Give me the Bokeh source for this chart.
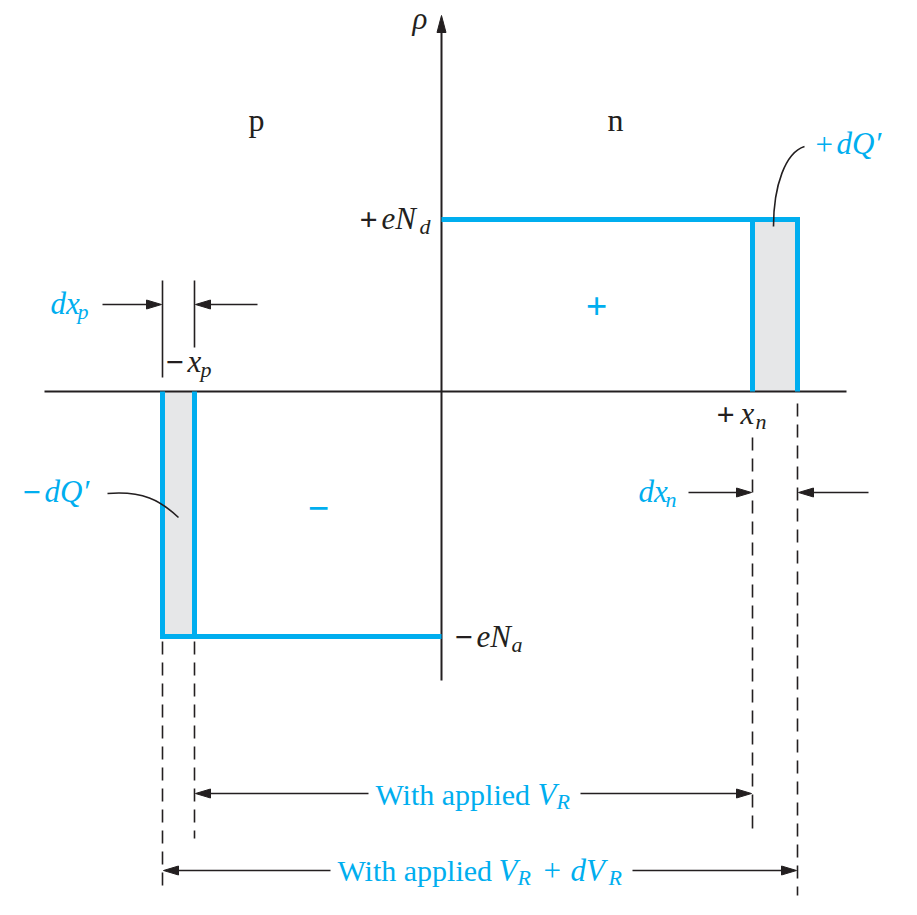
import numpy as np
from bokeh.plotting import figure
from bokeh.models import Range1d
from bokeh.core.properties import value
from bokeh.embed import file_html
from bokeh.resources import INLINE

# ---- chart values (charge-density diagram, arbitrary units) ----
Nd = 172          # +eN_d level
Na = 245          # -eN_a level (magnitude)
xp = 247          # depletion edge on p side (-x_p)
dxp = 32          # increment dx_p
xn = 311          # depletion edge on n side (+x_n)
dxn = 45          # increment dx_n
x_axis_ext = [-397, 405]
y_axis_ext = [-289, 376]

BLUE = "#00AEEF"
INK = "#231F20"
GRAY = "#E6E7E8"
FONT = "Liberation Serif"

W, H = 901, 899
OX, OY = 441, 391   # picture pixel position of the origin
TDY = -9            # text baseline correction


def X(px):
    return px - OX


def Y(py):
    return OY - py


p = figure(width=W, height=H,
           x_range=Range1d(-OX, W - OX),
           y_range=Range1d(OY - H, OY),
           output_backend="svg", toolbar_location=None,
           x_axis_type=None, y_axis_type=None,
           min_border=0, min_border_left=0, min_border_right=0,
           min_border_top=0, min_border_bottom=0,
           outline_line_color=None, background_fill_color="white",
           border_fill_color="white")
p.grid.visible = False

# gray increments of charge
p.quad(left=[xn, -(xp + dxp)], right=[xn + dxn, -xp],
       bottom=[0, -Na], top=[Nd, 0], fill_color=GRAY, line_color=None)

# axes
p.line(x_axis_ext, [0, 0], line_color=INK, line_width=2)
p.line([0, 0], [y_axis_ext[0], y_axis_ext[1] - 14], line_color=INK, line_width=2)

# blue charge blocks
p.multi_line(xs=[[0, xn + dxn, xn + dxn], [xn, xn],
                 [0, -(xp + dxp), -(xp + dxp)], [-xp, -xp]],
             ys=[[Nd, Nd, 0], [0, Nd], [-Na, -Na, 0], [-Na, 0]],
             line_color=BLUE, line_width=5, line_join="miter", line_cap="butt")

# black ticks above axis for dx_p
p.multi_line(xs=[[-(xp + dxp), -(xp + dxp)], [-xp, -xp]],
             ys=[[Y(377), Y(280)], [Y(347), Y(280)]],
             line_color=INK, line_width=1.6)

# dashed extension lines
p.multi_line(xs=[[-(xp + dxp)] * 2, [-xp] * 2, [xn] * 2, [xn + dxn] * 2],
             ys=[[Y(641), Y(890)], [Y(641), Y(838)], [Y(437), Y(834)], [Y(403), Y(895)]],
             line_color=INK, line_width=1.6, line_dash="13 8")

# dimension arrows
arrows = [
    # (start_x, tip_x, y)
    (X(102), -(xp + dxp) - 1, Y(304)),
    (X(257), -xp + 1, Y(304)),
    (X(688), xn - 1, Y(492)),
    (X(868), xn + dxn + 1, Y(492)),
    (X(368), -xp + 1, Y(793)),
    (X(580), xn - 1, Y(793)),
    (X(330), -(xp + dxp) + 1, Y(870)),
    (X(632), xn + dxn - 1, Y(870)),
]
L, HW = 15, 4.5
shaft_x, shaft_y, hx, hy = [], [], [], []
for sx, tx, y in arrows:
    d = 1 if tx > sx else -1
    bx = tx - d * L
    shaft_x.append([sx, bx + d * 2])
    shaft_y.append([y, y])
    hx.append([tx, bx, bx])
    hy.append([y, y + HW, y - HW])
# vertical axis arrow head
hx.append([0, -4.5, 4.5])
hy.append([y_axis_ext[1], y_axis_ext[1] - 17, y_axis_ext[1] - 17])

p.multi_line(xs=shaft_x, ys=shaft_y, line_color=INK, line_width=1.6)
p.patches(xs=hx, ys=hy, fill_color=INK, line_color=INK, line_width=1)

# leader curves
p.bezier(x0=[X(804), X(107)], y0=[Y(146), Y(493)],
         x1=[X(773), X(178)], y1=[Y(226), Y(517)],
         cx0=[X(785), X(142)], cy0=[Y(152), Y(490)],
         cx1=[X(773), X(160)], cy1=[Y(185), Y(500)],
         line_color=INK, line_width=1.6)


def txt(s, px, py, size, color, style="italic", align="left"):
    p.text(x=[X(px)], y=[Y(py + TDY)], text=[s],
           text_font=value(FONT), text_font_size=f"{size}px",
           text_font_style=style, text_color=color,
           text_align=align, text_baseline="alphabetic")


MS, SS, PS = 31, 22, 32
# black labels
txt("ρ", 412, 27, MS, INK)
txt("p", 248, 128, 32, INK, "normal")
txt("n", 607, 128, 32, INK, "normal")
txt("+", 359, 228, PS, INK, "bold")
txt("eN", 381, 227, MS, INK)
txt("d", 419, 235, SS, INK)
txt("\u2212", 454, 646, PS, INK, "bold")
txt("eN", 476, 645, MS, INK)
txt("a", 511, 653, SS, INK)
txt("\u2212", 165, 371, PS, INK, "bold")
txt("x", 187, 370, MS, INK)
txt("p", 200, 378, SS, INK)
txt("+", 716, 423, PS, INK, "bold")
txt("x", 740, 422, MS, INK)
txt("n", 755, 430, SS, INK)

# blue labels
txt("dx", 50, 312, MS, BLUE)
txt("p", 77, 320, SS, BLUE)
txt("dx", 638, 500, MS, BLUE)
txt("n", 665, 508, SS, BLUE)
txt("\u2212", 22, 501, PS, BLUE, "bold")
txt("dQ\u2032", 44, 500, MS, BLUE)
txt("+", 815, 153, MS, BLUE, "normal")
txt("dQ\u2032", 836, 152, MS, BLUE)
txt("+", 596, 315, 38, BLUE, "bold", "center")
txt("\u2212", 318, 517, 38, BLUE, "bold", "center")

txt("With applied", 375, 803, 30, BLUE, "normal")
txt("V", 537, 803, MS, BLUE)
txt("R", 556, 810, SS, BLUE)

txt("With applied", 337, 879, 30, BLUE, "normal")
txt("V", 498, 879, MS, BLUE)
txt("R", 517, 886, SS, BLUE)
txt("+", 543, 879, MS, BLUE, "normal")
txt("dV", 570, 879, MS, BLUE)
txt("R", 608, 886, SS, BLUE)

open("out.html", "w").write(file_html(p, INLINE))
